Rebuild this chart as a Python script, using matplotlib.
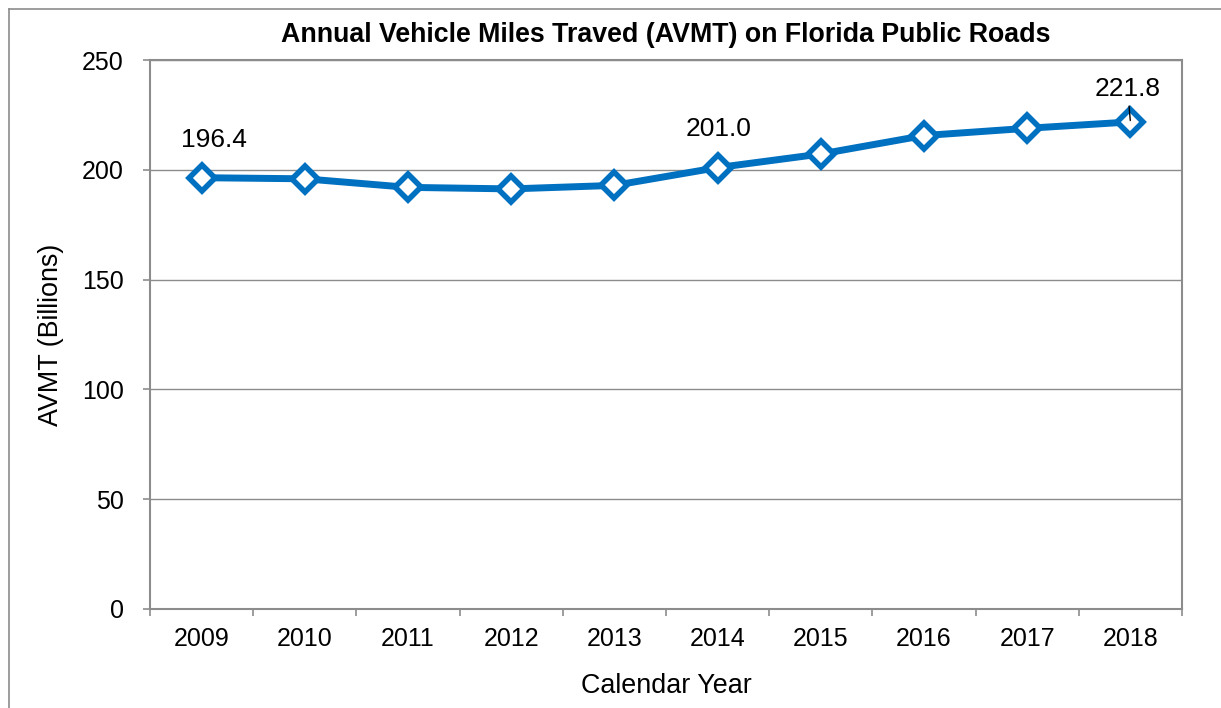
import matplotlib.pyplot as plt
from matplotlib.lines import Line2D
import numpy as np

plt.rcParams['font.family'] = ['Liberation Sans', 'DejaVu Sans']

years = ['2009', '2010', '2011', '2012', '2013', '2014', '2015', '2016', '2017', '2018']
avmt = [196.4, 195.9, 192.0, 191.3, 192.9, 201.0, 207.2, 215.6, 218.9, 221.8]

# which points get a value label, and the label offset in points
labelled = {0: (9, 27), 5: (1, 28), 9: (-2, 24)}

blue = '#0070C0'
grey = '#8C8C8C'

fig = plt.figure(figsize=(12.21, 7.08), dpi=100)
ax = fig.add_axes([150/1221, 1 - 609/708, 1032/1221, 549/708])

x = np.arange(len(years))
ax.plot(x, avmt, color=blue, lw=5, marker='D', markersize=13,
        markerfacecolor='white', markeredgecolor=blue, markeredgewidth=4,
        solid_joinstyle='round', zorder=3)

for i, (dx, dy) in labelled.items():
    kw = {}
    if i == 9:
        kw = dict(arrowprops=dict(arrowstyle='-', color='black', lw=1,
                                  shrinkA=2, shrinkB=1))
    ax.annotate('%.1f' % avmt[i], (x[i], avmt[i]), xytext=(dx, dy),
                textcoords='offset points', ha='center', va='center',
                fontsize=19, **kw)

ax.set_xlim(-0.5, len(years) - 0.5)
ax.set_ylim(0, 250)
ax.set_yticks(np.arange(0, 251, 50))
ax.set_xticks(x)
ax.set_xticklabels(years)
ax.set_xticks(np.arange(-0.5, len(years)), minor=True)
ax.tick_params(axis='x', which='major', length=0, pad=13, labelsize=18)
ax.tick_params(axis='x', which='minor', length=5, color=grey, width=1.2)
ax.tick_params(axis='y', length=5, color=grey, width=1.2, pad=14, labelsize=18)

ax.grid(axis='y', color=grey, lw=1)
ax.set_axisbelow(True)
for s in ax.spines.values():
    s.set_color(grey)
    s.set_linewidth(1.5)

ax.set_title('Annual Vehicle Miles Traved (AVMT) on Florida Public Roads',
             fontsize=19.3, fontweight='bold', pad=13)
ax.set_ylabel('AVMT (Billions)', fontsize=19.4, labelpad=13)
ax.set_xlabel('Calendar Year', fontsize=19.4, labelpad=16)

# outer chart border (only top and left visible in the crop)
fig.add_artist(Line2D([9/1221, 9/1221], [0, 1 - 9/708], color=grey, lw=1.2))
fig.add_artist(Line2D([9/1221, 1], [1 - 9/708, 1 - 9/708], color=grey, lw=1.2))

fig.savefig('out.png', dpi=100)
